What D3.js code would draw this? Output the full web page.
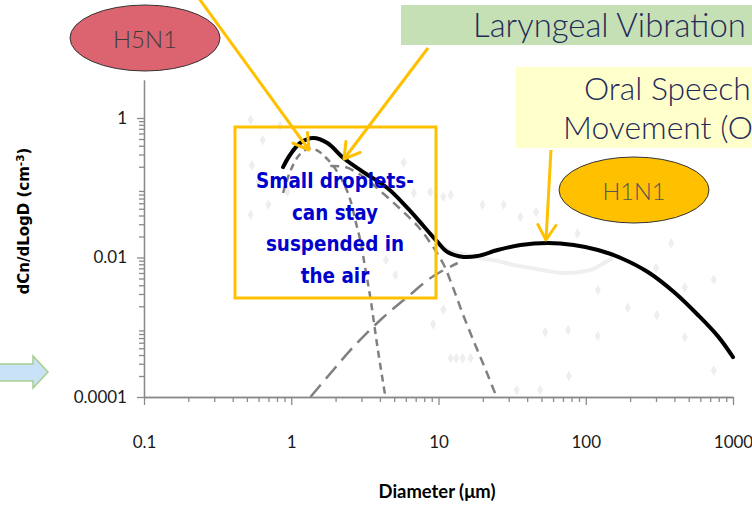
<!DOCTYPE html>
<html><head><meta charset="utf-8">
<script src="https://cdn.jsdelivr.net/npm/d3@7"></script>
<style>body{margin:0;background:#fff;} svg{display:block}</style>
</head><body>
<svg id="c" width="752" height="508"></svg>
<script>
// ---- data ----
const diameterTicks = [0.1, 1, 10, 100, 1000];
const diameterTickLabels = ["0.1", "1", "10", "100", "1000"];
const countTicks = [0.0001, 0.01, 1];
const countTickLabels = ["0.0001", "0.01", "1"];

const totalDiameter = [0.88, 0.98, 1.15, 1.41, 1.76, 2.26, 3.09, 4.5, 6.15, 7.91, 9.84, 11.5, 14.8, 18.4, 25.2, 36.1, 55.1, 82.8, 121, 173, 264, 397, 578, 791, 1000];
const totalCount = [0.198, 0.295, 0.438, 0.516, 0.438, 0.267, 0.168, 0.099, 0.0513, 0.0283, 0.0167, 0.0120, 0.0102, 0.0105, 0.0128, 0.0151, 0.0161, 0.0151, 0.0128, 0.00984, 0.00619, 0.0032, 0.0015, 0.00074, 0.000374];

const modeADiameter = [0.88, 0.98, 1.12, 1.29, 1.48, 1.73, 2.02, 2.30, 2.52, 2.72, 2.94, 3.18, 3.44, 3.85, 4.36];
const modeACount = [0.0841, 0.168, 0.285, 0.360, 0.348, 0.267, 0.179, 0.109, 0.0667, 0.0345, 0.0178, 0.00706, 0.00272, 0.000521, 0.0001];

const modeBDiameter = [1.84, 2.33, 3.04, 4.03, 5.51, 7.31, 9.10, 10.8, 12.5, 14.8, 17.9, 21.2, 24.8];
const modeBCount = [0.205, 0.198, 0.147, 0.0897, 0.0495, 0.0274, 0.0146, 0.00807, 0.00378, 0.00145, 0.000538, 0.000228, 0.0001];

const modeCDiameter = [1.35, 1.93, 2.64, 4.03, 6.15, 9.25, 13.5];
const modeCCount = [0.0001, 0.000244, 0.000521, 0.00127, 0.00272, 0.00543, 0.00834];

const faintLineDiameter = [8.8, 11.5, 14.8, 19.3, 25.2, 32.4, 42.3, 55, 71, 92, 112, 132, 153];
const faintLineCount = [0.0224, 0.0128, 0.0112, 0.0098, 0.0089, 0.0078, 0.0071, 0.0064, 0.0060, 0.0062, 0.0068, 0.0083, 0.0098];

const faintPointDiameter = [0.53,0.64,0.84,0.54,0.60,0.53,0.94,0.70,5.8,6.8,8.8,10.8,12.1,19.9,27.7,36,46,88,380,740,470,300,121,193,304,470,740,76,53,121,9.2,10.8,12.1,13.2,14.6,16.5,77,34,49,5.5,4.4,5.1];
const faintPointCount = [0.94,0.48,0.77,0.21,0.12,0.041,0.087,0.057,0.23,0.084,0.087,0.074,0.079,0.057,0.057,0.038,0.045,0.022,0.016,0.0048,0.0037,0.0071,0.0034,0.0019,0.0015,0.00072,0.00024,0.00091,0.00085,0.00075,0.0011,0.0018,0.00036,0.00036,0.00036,0.00036,0.0002,0.000126,0.000126,0.13,0.0092,0.0056];

const boxLines = ["Small droplets-", "can stay", "suspended in", "the air"];

// ---- chart ----
const svg = d3.select("#c");
const x = d3.scaleLog().domain([0.1, 1000]).range([144, 733]);
const y = d3.scaleLog().domain([0.0001, 3.506]).range([397, 80]);
const zip = (a, b) => a.map((v, i) => [v, b[i]]);
const line = d3.line().x(d => x(d[0])).y(d => y(d[1])).curve(d3.curveCatmullRom.alpha(0.5));

function fitWidth(sel, w) {
  const len = sel.node().getComputedTextLength();
  const fs = parseFloat(sel.attr("font-size"));
  sel.attr("font-size", fs * w / len);
  return sel;
}

// faint background points and line
svg.append("g").selectAll("path").data(zip(faintPointDiameter, faintPointCount)).join("path")
  .attr("transform", d => `translate(${x(d[0])},${y(d[1])})`)
  .attr("d", d3.symbol(d3.symbolDiamond, 32)).attr("fill", "#eeeeee");
svg.append("path").datum(zip(faintLineDiameter, faintLineCount)).attr("d", line)
  .attr("fill", "none").attr("stroke", "#efefef").attr("stroke-width", 4);

// axes
const minorX = [], minorY = [];
[0.1, 1, 10, 100].forEach(b => { for (let k = 2; k <= 9; k++) minorX.push(b * k); });
[0.0001, 0.001, 0.01, 0.1].forEach(b => { for (let k = 2; k <= 9; k++) minorY.push(b * k); });

const ax = svg.append("g").attr("transform", "translate(0,397)");
ax.call(d3.axisBottom(x).tickValues(minorX).tickSize(5).tickSizeOuter(0).tickFormat(""));
ax.append("g").call(d3.axisBottom(x).tickValues(diameterTicks).tickSize(8).tickSizeOuter(0).tickPadding(31)
  .tickFormat((d, i) => diameterTickLabels[i]));
const ay = svg.append("g").attr("transform", "translate(144,0)");
ay.call(d3.axisLeft(y).tickValues(minorY).tickSize(5).tickSizeOuter(0).tickFormat(""));
ay.append("g").call(d3.axisLeft(y).tickValues(countTicks).tickSize(7).tickSizeOuter(0).tickPadding(10)
  .tickFormat((d, i) => countTickLabels[i]));
svg.selectAll(".domain, .tick line").attr("stroke", "#8a8a8a").attr("stroke-width", 1.3);
svg.selectAll(".tick text").attr("font-family", "Lato, sans-serif").attr("font-size", 17).attr("fill", "#1a1a1a");

// mode curves
svg.append("path").datum(zip(modeCDiameter, modeCCount)).attr("d", line)
  .attr("fill", "none").attr("stroke", "#808080").attr("stroke-width", 2.5).attr("stroke-dasharray", "16,8");
svg.append("path").datum(zip(modeBDiameter, modeBCount)).attr("d", line)
  .attr("fill", "none").attr("stroke", "#808080").attr("stroke-width", 2.5).attr("stroke-dasharray", "9,6");
svg.append("path").datum(zip(modeADiameter, modeACount)).attr("d", line)
  .attr("fill", "none").attr("stroke", "#808080").attr("stroke-width", 2.5).attr("stroke-dasharray", "7,5");
// total
svg.append("path").datum(zip(totalDiameter, totalCount)).attr("d", line)
  .attr("fill", "none").attr("stroke", "#000").attr("stroke-width", 4).attr("stroke-linecap", "round");

// axis titles
const yt = svg.append("text").attr("transform", "translate(29,221) rotate(-90)")
  .attr("text-anchor", "middle").attr("font-family", "DejaVu Sans, sans-serif").attr("font-weight", "bold")
  .attr("font-size", 15).attr("fill", "#000");
yt.append("tspan").text("dCn/dLogD (cm");
yt.append("tspan").attr("font-size", "0.7em").attr("dy", "-0.5em").text("-3");
yt.append("tspan").attr("dy", "0.35em").text(")");
const xt = svg.append("text").attr("x", 437).attr("y", 498).attr("text-anchor", "middle")
  .attr("font-family", "Lato, sans-serif").attr("font-weight", "bold").attr("font-size", 16).attr("fill", "#000")
  .text("Diameter (μm)");
fitWidth(xt, 117);

// yellow box with text
svg.append("rect").attr("x", 235).attr("y", 127).attr("width", 201).attr("height", 171)
  .attr("fill", "none").attr("stroke", "#ffc000").attr("stroke-width", 3);
const bt = svg.append("g");
boxLines.forEach((t, i) => {
  bt.append("text").attr("x", 335).attr("y", 188 + i * 31.7).attr("text-anchor", "middle")
    .attr("font-family", "DejaVu Sans Condensed, DejaVu Sans, sans-serif").attr("font-stretch", "condensed")
    .attr("font-weight", "bold").attr("font-size", 18).attr("fill", "#0000cc").text(t);
});
fitWidth(bt.select("text"), 158);
bt.selectAll("text").attr("font-size", bt.select("text").attr("font-size"));

// label boxes
svg.append("rect").attr("x", 401).attr("y", 5).attr("width", 360).attr("height", 40).attr("fill", "#c5e0b4");
const lv = svg.append("text").attr("x", 473).attr("y", 37).attr("font-family", "Lato, sans-serif").attr("font-weight", 300)
  .attr("font-size", 30).attr("fill", "#1f2a5a").text("Laryngeal Vibration");
fitWidth(lv, 273);
svg.append("rect").attr("x", 516).attr("y", 67).attr("width", 250).attr("height", 81).attr("fill", "#ffffcc");
const os = svg.append("text").attr("x", 584).attr("y", 100).attr("font-family", "Lato, sans-serif").attr("font-weight", 300)
  .attr("font-size", 30).attr("fill", "#1f2a5a").text("Oral Speech");
fitWidth(os, 167);
svg.append("text").attr("x", 563).attr("y", 139).attr("font-family", "Lato, sans-serif").attr("font-weight", 300)
  .attr("font-size", os.attr("font-size")).attr("fill", "#1f2a5a").text("Movement (O)");

// arrows
const defs = svg.append("defs");
defs.append("marker").attr("id", "ah").attr("viewBox", "-18 -11 20 22").attr("markerWidth", 20).attr("markerHeight", 22)
  .attr("refX", 0).attr("refY", 0).attr("orient", "auto").attr("markerUnits", "userSpaceOnUse")
  .append("path").attr("d", "M-15,-9 L0,0 L-15,9").attr("fill", "none").attr("stroke", "#ffc000")
  .attr("stroke-width", 3).attr("stroke-linecap", "round").attr("stroke-linejoin", "round");
[[195, -7, 309, 150], [428, 48, 344, 159], [551, 150, 546, 240]].forEach(a => {
  svg.append("line").attr("x1", a[0]).attr("y1", a[1]).attr("x2", a[2]).attr("y2", a[3])
    .attr("stroke", "#ffc000").attr("stroke-width", 3).attr("marker-end", "url(#ah)");
});

// ellipses
svg.append("ellipse").attr("cx", 145).attr("cy", 38).attr("rx", 75).attr("ry", 33)
  .attr("fill", "#dc6470").attr("stroke", "#333").attr("stroke-width", 1);
const h5 = svg.append("text").attr("x", 145).attr("y", 48).attr("text-anchor", "middle")
  .attr("font-family", "Lato, sans-serif").attr("font-weight", 300).attr("font-size", 26).attr("fill", "#3c3c3c").text("H5N1");
fitWidth(h5, 64);
svg.append("ellipse").attr("cx", 634).attr("cy", 190).attr("rx", 75).attr("ry", 33)
  .attr("fill", "#ffc000").attr("stroke", "#333").attr("stroke-width", 1);
const h1 = svg.append("text").attr("x", 634).attr("y", 200).attr("text-anchor", "middle")
  .attr("font-family", "Lato, sans-serif").attr("font-weight", 300).attr("font-size", 26).attr("fill", "#555").text("H1N1");
fitWidth(h1, 63);

// left arrow
svg.append("path").attr("d", "M-5,364 L33,364 L33,356 L48,372 L33,388 L33,381 L-5,381 Z")
  .attr("fill", "#c9e2f8").attr("stroke", "#a8d08d").attr("stroke-width", 1.5);
</script>
</body></html>
